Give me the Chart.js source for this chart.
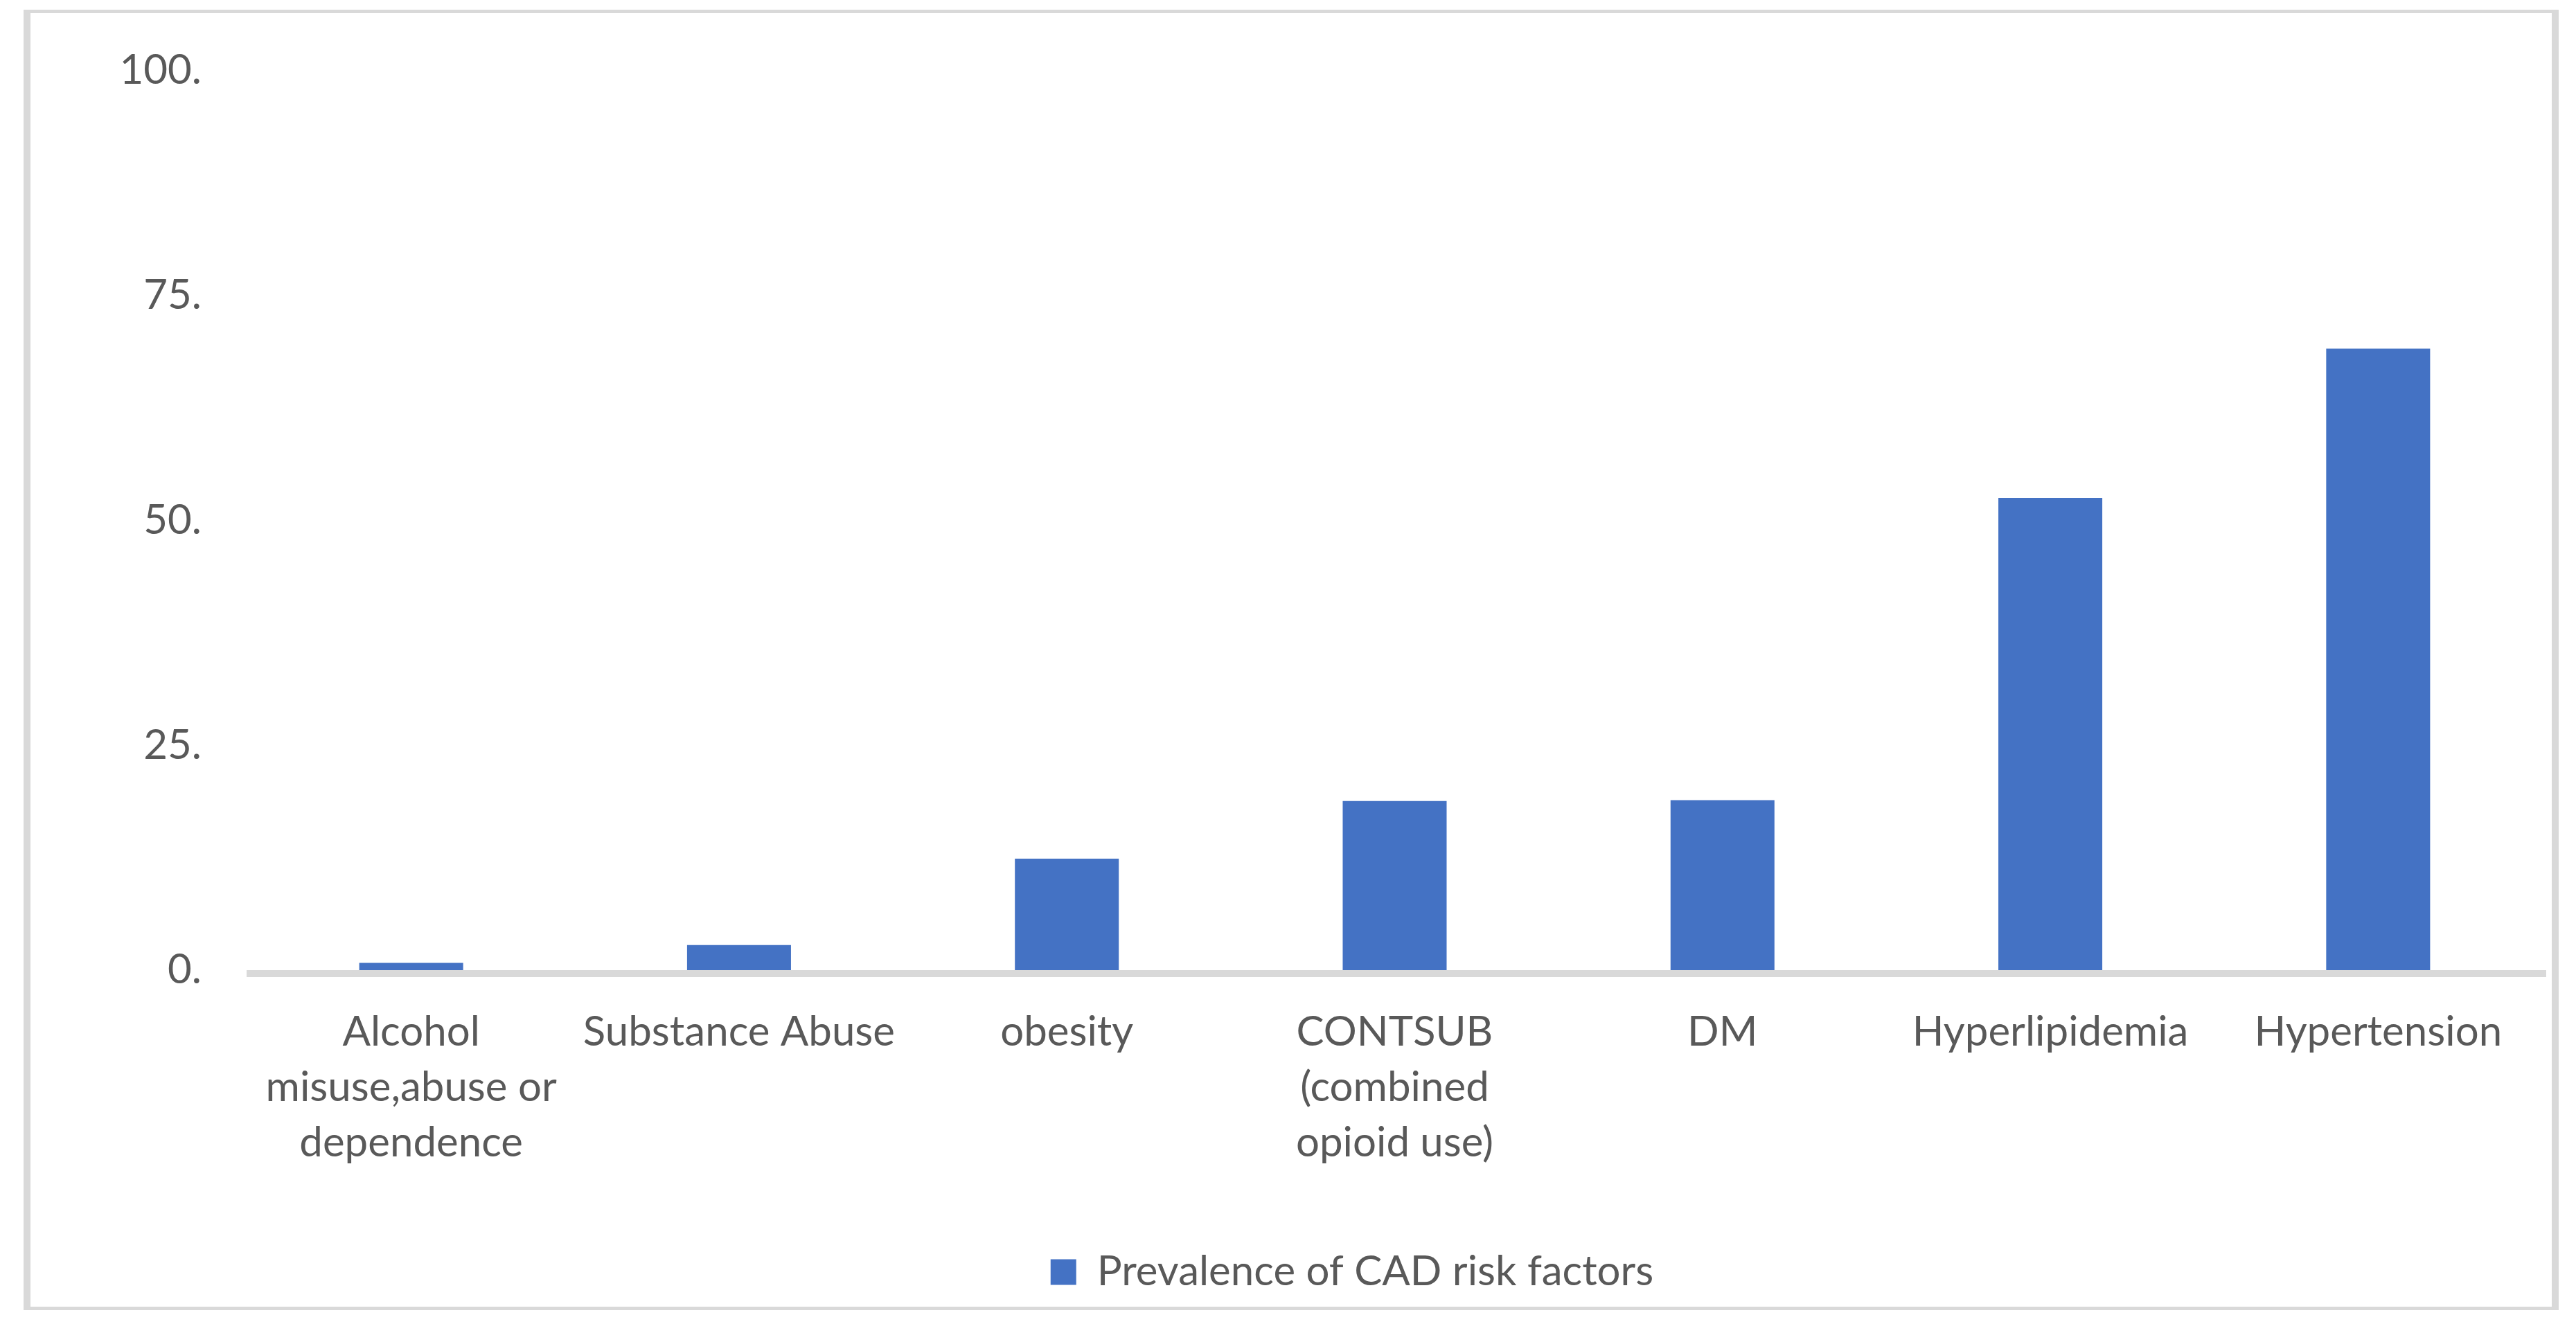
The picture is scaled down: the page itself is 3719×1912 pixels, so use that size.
<!DOCTYPE html>
<html>
<head>
<meta charset="utf-8">
<script src="https://cdn.jsdelivr.net/npm/chart.js@4"></script>
<style>
  html, body { margin: 0; padding: 0; background: #ffffff; }
  #c { display: block; }
</style>
</head>
<body>
<canvas id="c" width="3719" height="1912"></canvas>
<script>
const categories = [
  ["Alcohol", "misuse,abuse or", "dependence"],
  "Substance Abuse",
  "obesity",
  ["CONTSUB", "(combined", "opioid use)"],
  "DM",
  "Hyperlipidemia",
  "Hypertension"
];
const seriesName = "Prevalence of CAD risk factors";
const prevalence = [0.8, 2.8, 12.4, 18.8, 18.9, 52.5, 69.1];
const yTicks = [0, 25, 50, 75, 100];

const TEXT = "#595959";
const LINE = "#d9d9d9";
const BAR = "#4472C4";
const FONT = "Lato";

const framePlugin = {
  id: "frame",
  beforeDraw(chart) {
    const ctx = chart.ctx;
    ctx.save();
    ctx.fillStyle = "#ffffff";
    ctx.fillRect(0, 0, chart.width, chart.height);
    ctx.restore();
  },
  afterDatasetsDraw(chart) {
    const ctx = chart.ctx;
    const a = chart.chartArea;
    ctx.save();
    ctx.fillStyle = LINE;
    ctx.fillRect(a.left - 1, a.bottom, a.right - a.left + 7, 10);
    ctx.restore();
  },
  afterDraw(chart) {
    const ctx = chart.ctx;
    ctx.save();
    ctx.fillStyle = LINE;
    ctx.fillRect(34, 14, 3660, 5);
    ctx.fillRect(34, 1887, 3660, 5);
    ctx.fillRect(34, 14, 10, 1878);
    ctx.fillRect(3684, 14, 10, 1878);
    ctx.restore();
  }
};

new Chart(document.getElementById("c"), {
  type: "bar",
  data: {
    labels: categories,
    datasets: [{
      label: seriesName,
      data: prevalence,
      backgroundColor: BAR,
      borderWidth: 0,
      categoryPercentage: 1.0,
      barPercentage: 0.317
    }]
  },
  options: {
    responsive: false,
    devicePixelRatio: 1,
    animation: false,
    layout: { padding: { left: 234, right: 49, top: 96, bottom: 35 } },
    plugins: {
      tooltip: { enabled: false },
      legend: {
        display: true,
        position: "bottom",
        labels: {
          boxWidth: 37,
          boxHeight: 37,
          padding: 10,
          color: TEXT,
          font: { family: FONT, size: 60 }
        }
      }
    },
    scales: {
      x: {
        grid: { display: false, drawTicks: false, tickLength: 0 },
        border: { display: false },
        ticks: {
          color: TEXT,
          font: { family: FONT, size: 60, lineHeight: 1.333 },
          padding: 50,
          maxRotation: 0,
          minRotation: 0,
          autoSkip: false
        },
        afterFit(scale) { scale.height = 396; }
      },
      y: {
        min: 0,
        max: 100,
        afterBuildTicks(scale) { scale.ticks = yTicks.map(v => ({ value: v })); },
        grid: { display: false, drawTicks: false, tickLength: 0 },
        border: { display: false },
        ticks: {
          color: TEXT,
          font: { family: FONT, size: 60 },
          padding: 66,
          callback: (v) => v + "."
        },
        afterFit(scale) {
          scale.width = 123;
          scale._computeLabelArea = () => undefined;
        }
      }
    }
  },
  plugins: [framePlugin]
});
</script>
</body>
</html>
